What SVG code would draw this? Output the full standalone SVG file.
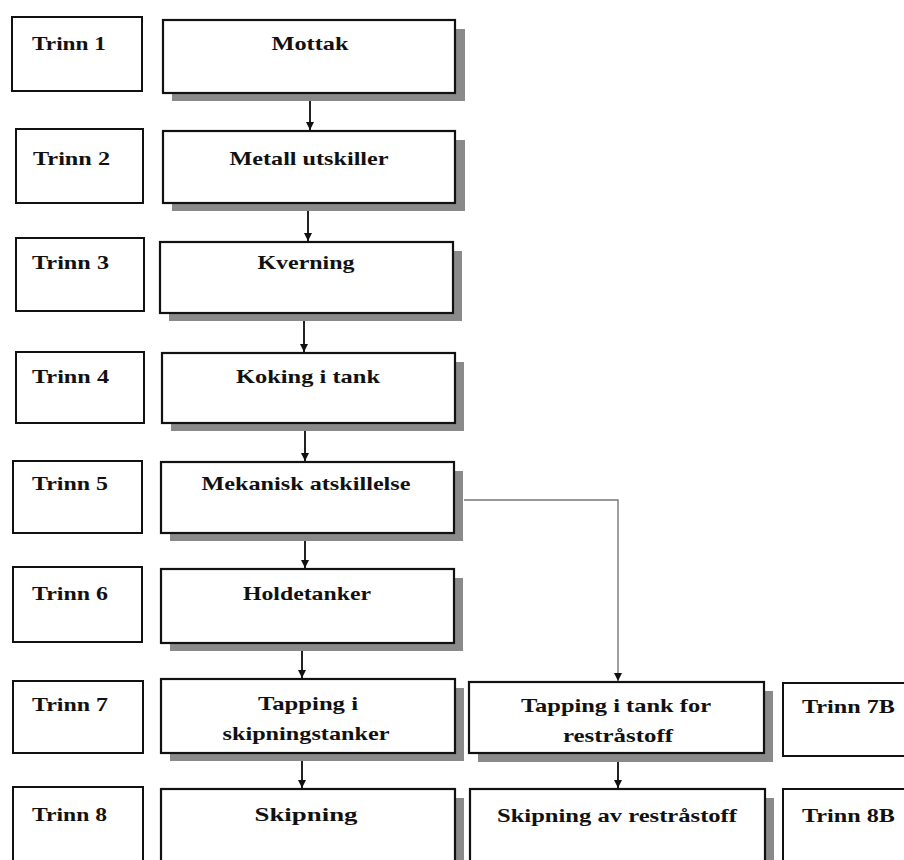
<svg xmlns="http://www.w3.org/2000/svg" width="904" height="860" viewBox="0 0 904 860">
<style>
  .bg { fill: #ffffff; }
  .step { fill: #ffffff; stroke: #111111; stroke-width: 2; }
  .box { fill: #ffffff; stroke: #111111; stroke-width: 2.2; }
  .shadow { fill: #8a8a8a; }
  .t { font-family: "Liberation Serif", "Times New Roman", serif; font-weight: bold; font-size: 19px; fill: #111111; }
  .c { text-anchor: middle; }
  .conn { stroke: #222222; stroke-width: 2; fill: none; }
  .thin { stroke: #777777; stroke-width: 1.4; fill: none; }
</style>
<defs>
  <marker id="ah" viewBox="0 0 10 10" refX="10" refY="5" markerWidth="8" markerHeight="8" markerUnits="userSpaceOnUse" orient="auto">
    <path d="M0,0 L10,5 L0,10 z" fill="#111111"/>
  </marker>
</defs>
<rect class="bg" x="0" y="0" width="904" height="860"/>

<g id="connectors">
  <line class="conn" x1="310" y1="94" x2="310" y2="130" marker-end="url(#ah)"/>
  <line class="conn" x1="308" y1="204" x2="308" y2="241" marker-end="url(#ah)"/>
  <line class="conn" x1="304" y1="314" x2="304" y2="352" marker-end="url(#ah)"/>
  <line class="conn" x1="305" y1="424" x2="305" y2="461" marker-end="url(#ah)"/>
  <line class="conn" x1="305" y1="534" x2="305" y2="568" marker-end="url(#ah)"/>
  <line class="conn" x1="302" y1="644" x2="302" y2="678" marker-end="url(#ah)"/>
  <line class="conn" x1="302" y1="754" x2="302" y2="788" marker-end="url(#ah)"/>
  <path class="thin" d="M464,500 L618,500 L618,681" marker-end="url(#ah)"/>
  <line class="conn" x1="618" y1="754" x2="618" y2="788" marker-end="url(#ah)"/>
</g>

<g id="trinn1"><rect class="step" x="12" y="17" width="130" height="74"/><text class="t" x="32" y="50" textLength="74" lengthAdjust="spacingAndGlyphs">Trinn 1</text></g>
<g id="mottak"><rect class="shadow" x="172" y="29" width="293" height="72"/><rect class="box" x="163" y="20" width="292" height="73"/><text class="t c" x="310" y="50" textLength="77" lengthAdjust="spacingAndGlyphs">Mottak</text></g>

<g id="trinn2"><rect class="step" x="16" y="129" width="127" height="74"/><text class="t" x="33" y="165" textLength="77" lengthAdjust="spacingAndGlyphs">Trinn 2</text></g>
<g id="metall"><rect class="shadow" x="172" y="140" width="293" height="71"/><rect class="box" x="163" y="131" width="292" height="72"/><text class="t c" x="309" y="165" textLength="159" lengthAdjust="spacingAndGlyphs">Metall utskiller</text></g>

<g id="trinn3"><rect class="step" x="16" y="238" width="128" height="73"/><text class="t" x="32" y="269" textLength="77" lengthAdjust="spacingAndGlyphs">Trinn 3</text></g>
<g id="kverning"><rect class="shadow" x="169" y="251" width="293" height="70"/><rect class="box" x="160" y="242" width="293" height="71"/><text class="t c" x="306" y="269" textLength="97" lengthAdjust="spacingAndGlyphs">Kverning</text></g>

<g id="trinn4"><rect class="step" x="16" y="352" width="128" height="71"/><text class="t" x="32" y="383" textLength="77" lengthAdjust="spacingAndGlyphs">Trinn 4</text></g>
<g id="koking"><rect class="shadow" x="171" y="362" width="293" height="69"/><rect class="box" x="162" y="353" width="293" height="70"/><text class="t c" x="308" y="383" textLength="144" lengthAdjust="spacingAndGlyphs">Koking i tank</text></g>

<g id="trinn5"><rect class="step" x="13" y="461" width="129" height="72"/><text class="t" x="32" y="490" textLength="76" lengthAdjust="spacingAndGlyphs">Trinn 5</text></g>
<g id="mekanisk"><rect class="shadow" x="170" y="471" width="293" height="70"/><rect class="box" x="161" y="462" width="293" height="71"/><text class="t c" x="306" y="490" textLength="209" lengthAdjust="spacingAndGlyphs">Mekanisk atskillelse</text></g>

<g id="trinn6"><rect class="step" x="13" y="567" width="129" height="75"/><text class="t" x="32" y="600" textLength="76" lengthAdjust="spacingAndGlyphs">Trinn 6</text></g>
<g id="holdetanker"><rect class="shadow" x="170" y="578" width="293" height="73"/><rect class="box" x="161" y="569" width="293" height="74"/><text class="t c" x="307" y="600" textLength="128" lengthAdjust="spacingAndGlyphs">Holdetanker</text></g>

<g id="trinn7"><rect class="step" x="13" y="681" width="130" height="72"/><text class="t" x="32" y="711" textLength="76" lengthAdjust="spacingAndGlyphs">Trinn 7</text></g>
<g id="tapping"><rect class="shadow" x="170" y="688" width="294" height="73"/><rect class="box" x="161" y="679" width="294" height="74"/><text class="t c" x="308" y="710" textLength="100" lengthAdjust="spacingAndGlyphs">Tapping i</text><text class="t c" x="306" y="740" textLength="167" lengthAdjust="spacingAndGlyphs">skipningstanker</text></g>

<g id="trinn8"><rect class="step" x="13" y="787" width="130" height="90"/><text class="t" x="32" y="821" textLength="75" lengthAdjust="spacingAndGlyphs">Trinn 8</text></g>
<g id="skipning"><rect class="shadow" x="170" y="798" width="294" height="80"/><rect class="box" x="161" y="789" width="294" height="90"/><text class="t c" x="306" y="821" textLength="103" lengthAdjust="spacingAndGlyphs">Skipning</text></g>

<g id="tapping-rest"><rect class="shadow" x="478" y="691" width="295" height="71"/><rect class="box" x="469" y="682" width="295" height="71"/><text class="t c" x="616" y="712" textLength="190" lengthAdjust="spacingAndGlyphs">Tapping i tank for</text><text class="t c" x="618" y="742" textLength="110" lengthAdjust="spacingAndGlyphs">restråstoff</text></g>

<g id="trinn7b"><rect class="step" x="783" y="683" width="140" height="73"/><text class="t" x="802" y="713" textLength="93" lengthAdjust="spacingAndGlyphs">Trinn 7B</text></g>

<g id="skipning-rest"><rect class="shadow" x="479" y="798" width="295" height="80"/><rect class="box" x="470" y="789" width="295" height="90"/><text class="t c" x="617" y="822" textLength="240" lengthAdjust="spacingAndGlyphs">Skipning av restråstoff</text></g>

<g id="trinn8b"><rect class="step" x="783" y="789" width="140" height="90"/><text class="t" x="802" y="822" textLength="93" lengthAdjust="spacingAndGlyphs">Trinn 8B</text></g>
</svg>
